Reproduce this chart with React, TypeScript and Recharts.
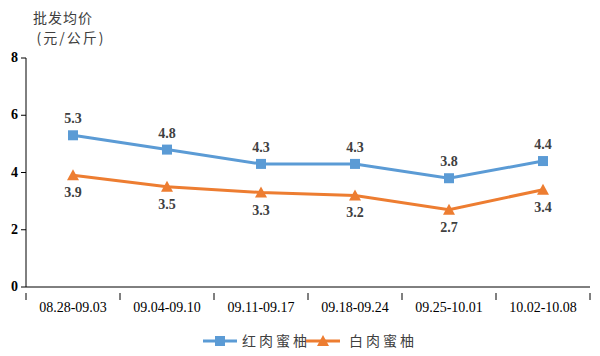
import { LineChart, Line, XAxis, YAxis, LabelList } from 'recharts';

const weeks = ['08.28-09.03', '09.04-09.10', '09.11-09.17', '09.18-09.24', '09.25-10.01', '10.02-10.08'];
const redPomelo = [5.3, 4.8, 4.3, 4.3, 3.8, 4.4];
const whitePomelo = [3.9, 3.5, 3.3, 3.2, 2.7, 3.4];
const yTicks = [0, 2, 4, 6, 8];

const data = weeks.map((w, i) => ({ week: w, red: redPomelo[i], white: whitePomelo[i] }));

const BLUE = '#5B9BD5';
const ORANGE = '#ED7D31';
const serif = '"Liberation Serif", "Times New Roman", serif';
const cjk = '"Noto Sans CJK SC", sans-serif';
const HALF = 47;

function Square(props: any) {
  const { cx, cy } = props;
  return <rect x={cx - 5} y={cy - 5} width={10} height={10} fill={BLUE} />;
}

function Triangle(props: any) {
  const { cx, cy } = props;
  return <polygon points={`${cx},${cy - 6} ${cx + 6},${cy + 5} ${cx - 6},${cy + 5}`} fill={ORANGE} />;
}

function WeekTick(props: any) {
  const { x, y, payload, index } = props;
  const last = index === weeks.length - 1;
  return (
    <g>
      <line x1={x - HALF} x2={x - HALF} y1={y - 2} y2={y + 5} stroke="#000" />
      {last && <line x1={x + HALF} x2={x + HALF} y1={y - 2} y2={y + 5} stroke="#000" />}
      <text x={x} y={y + 17} textAnchor="middle" style={{ fontFamily: serif, fontSize: 14, fill: '#000' }}>
        {payload.value}
      </text>
    </g>
  );
}

function ValueTick(props: any) {
  const { x, y, payload } = props;
  return (
    <text x={x - 1} y={y + 4} textAnchor="end" style={{ fontFamily: serif, fontSize: 14, fontWeight: 'bold', fill: '#000' }}>
      {payload.value}
    </text>
  );
}

function makeLabel(above: boolean) {
  return (props: any) => {
    const { x, y, value } = props;
    return (
      <text x={x} y={above ? y - 12 : y + 22} textAnchor="middle"
        style={{ fontFamily: serif, fontSize: 14, fontWeight: 'bold', fill: '#404040' }}>
        {Number(value).toFixed(1)}
      </text>
    );
  };
}

export default function App() {
  return (
    <div style={{ position: 'absolute', left: 0, top: 0, width: 600, height: 356, background: '#fff' }}>
      <LineChart width={600} height={356} data={data} margin={{ top: 58, right: 10, bottom: 39, left: 0 }}>
        <text x={63} y={23} textAnchor="middle" style={{ fontFamily: cjk, fontSize: 14, fill: '#404040', letterSpacing: 1 }}>批发均价</text>
        <text x={71} y={43} textAnchor="middle" style={{ fontFamily: cjk, fontSize: 14, fill: '#404040', letterSpacing: 2 }}>(元/公斤)</text>
        <XAxis
          dataKey="week"
          height={30}
          stroke="#000"
          tickLine={false}
          interval={0}
          padding={{ left: HALF, right: HALF }}
          tick={<WeekTick />}
        />
        <YAxis
          width={26}
          domain={[0, 8]}
          ticks={yTicks}
          stroke="#000"
          tickSize={5}
          tickLine={{ stroke: '#000' }}
          tick={<ValueTick />}
        />
        <Line dataKey="red" stroke={BLUE} strokeWidth={3} dot={<Square />} activeDot={false} isAnimationActive={false}>
          <LabelList dataKey="red" content={makeLabel(true)} />
        </Line>
        <Line dataKey="white" stroke={ORANGE} strokeWidth={3} dot={<Triangle />} activeDot={false} isAnimationActive={false}>
          <LabelList dataKey="white" content={makeLabel(false)} />
        </Line>
        <g>
          <line x1={203} x2={237} y1={341} y2={341} stroke={BLUE} strokeWidth={3} />
          <rect x={215} y={336} width={10} height={10} fill={BLUE} />
          <text x={242} y={346} style={{ fontFamily: cjk, fontSize: 14, fill: '#404040', letterSpacing: 3 }}>红肉蜜柚</text>
          <line x1={306} x2={340} y1={341} y2={341} stroke={ORANGE} strokeWidth={3} />
          <polygon points="323,335 329,346 317,346" fill={ORANGE} />
          <text x={349} y={346} style={{ fontFamily: cjk, fontSize: 14, fill: '#404040', letterSpacing: 3 }}>白肉蜜柚</text>
        </g>
      </LineChart>
    </div>
  );
}
